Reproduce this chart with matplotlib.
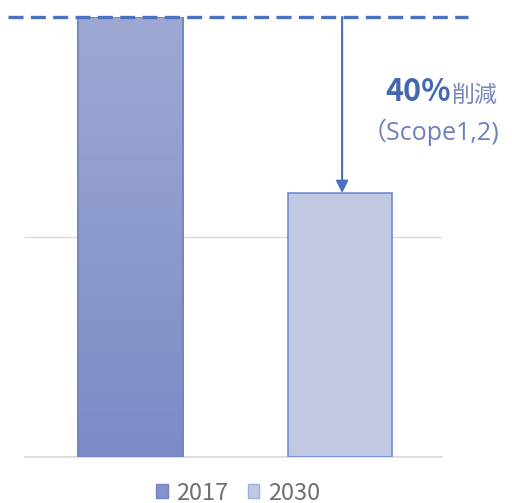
import numpy as np
import matplotlib.pyplot as plt
from matplotlib.patches import Patch
from matplotlib.colors import LinearSegmentedColormap

plt.rcParams['font.family'] = ['Noto Sans CJK JP', 'DejaVu Sans']

# data
years = ['2017', '2030']
values = [100, 60]
reduction_label = '40%'
reduction_word = '削減'
scope_label = '（Scope1,2)'

fig = plt.figure(figsize=(5.12, 5.03), dpi=100)
ax = fig.add_axes([25 / 512, 46 / 503, 417 / 512, 440 / 503])

x = np.arange(len(years))
bars = ax.bar(x, values, width=0.5, color=['#8c99cc', '#c0c8e4'],
              edgecolor=['#6f84c6', '#6e8ccc'], linewidth=1.2, zorder=3)

# gradient for the first bar (lighter at top)
b0 = bars[0]
grad = np.linspace(0, 1, 256).reshape(-1, 1)
cmap = LinearSegmentedColormap.from_list('g', ['#7b8bc5', '#9ea9d3'])
im = ax.imshow(grad, cmap=cmap, aspect='auto', origin='lower',
               extent=[b0.get_x(), b0.get_x() + b0.get_width(), 0, values[0]],
               zorder=3.5)
im.set_clip_path(b0)
ax.bar(x[0], values[0], width=0.5, facecolor='none', edgecolor='#6f84c6',
       linewidth=1.2, zorder=4)

ax.set_xlim(-0.504, 1.487)
ax.set_ylim(0, 100)
ax.set_yticks([0, 50])
ax.grid(axis='y', color='#d9d9d9', linewidth=1, zorder=0)
ax.axhline(0, color='#d9d9d9', linewidth=1.2, clip_on=False, zorder=0)
ax.tick_params(left=False, bottom=False, labelleft=False, labelbottom=False)
for s in ax.spines.values():
    s.set_visible(False)

# dashed reference line at 2017 level
ax.plot([-0.585, 1.611], [values[0], values[0]], linestyle=(0, (4.5, 2.2)),
        color='#4a72c0', linewidth=2.4, clip_on=False, zorder=5)

# arrow from 2017 level to 2030 bar
ax.annotate('', xy=(x[1] + 0.01, values[1]), xytext=(x[1] + 0.01, values[0]),
            arrowprops=dict(arrowstyle='-|>', color='#4a6fbf', lw=1.5,
                            mutation_scale=18, shrinkA=0, shrinkB=0),
            zorder=5)

fig.text(385 / 512, 1 - 92 / 503, reduction_label, fontsize=22, fontweight='bold',
         color='#4467b4', ha='left', va='center')
fig.text(452 / 512, 1 - 95 / 503, reduction_word, fontsize=16.5,
         color='#7487bf', ha='left', va='center')
fig.text(362 / 512, 1 - 132 / 503, scope_label, fontsize=18,
         family=['Open Sans', 'Noto Sans CJK JP'],
         color='#6b80bd', ha='left', va='center')

handles = [Patch(facecolor='#8593c8', edgecolor='#6f84c6'),
           Patch(facecolor='#c0c8e4', edgecolor='#9fb0dc')]
fig.legend(handles, years, loc='center', bbox_to_anchor=(0.465, 1 - 493 / 503),
           ncol=2, frameon=False, fontsize=17, labelcolor='#707070',
           handlelength=0.5, handleheight=0.5, handletextpad=0.35,
           columnspacing=0.8)

fig.savefig('out.png', dpi=100)
